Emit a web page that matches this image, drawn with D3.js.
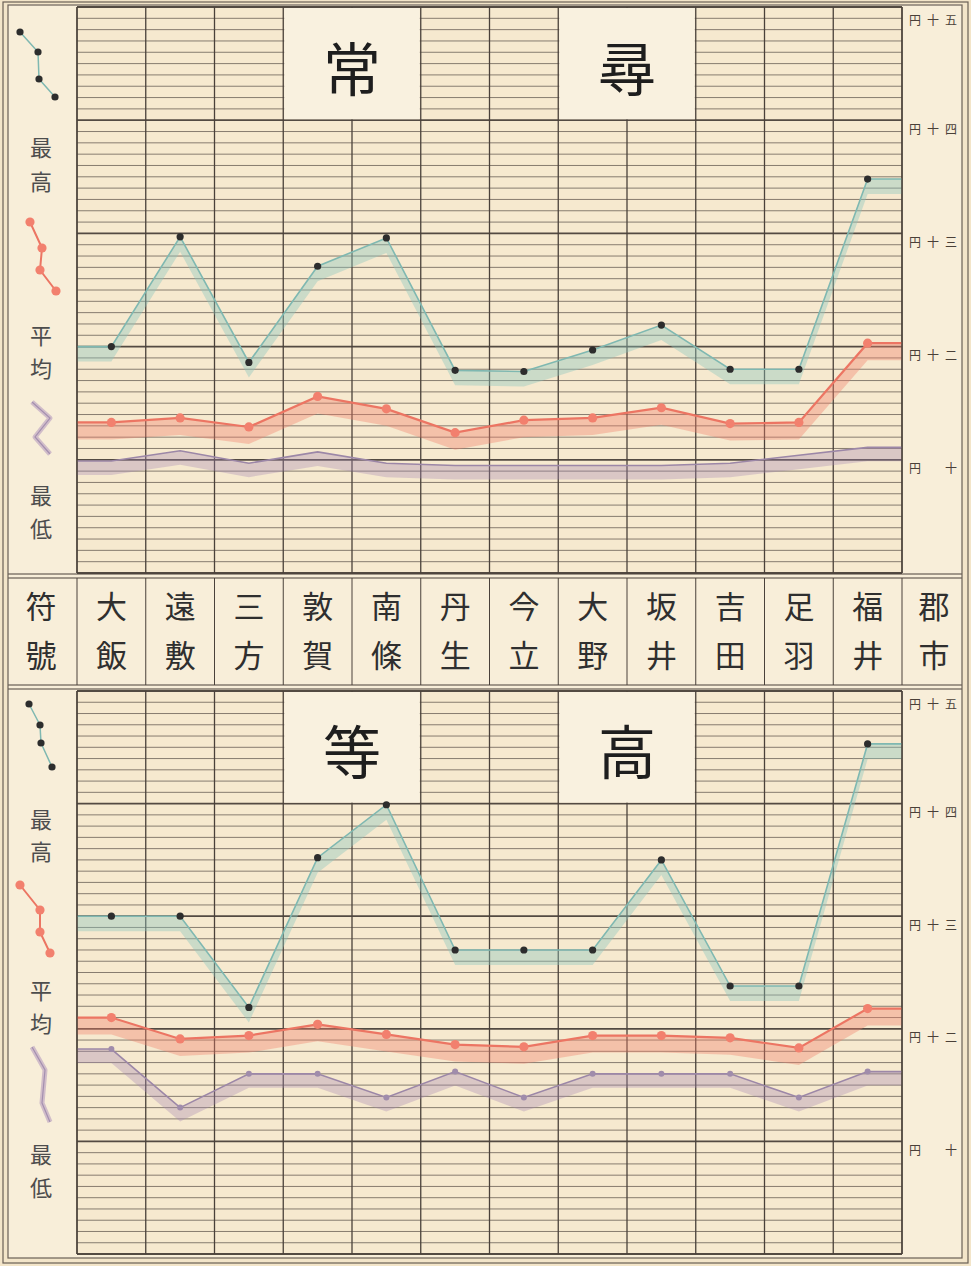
<!DOCTYPE html>
<html><head><meta charset="utf-8">
<script src="https://cdn.jsdelivr.net/npm/d3@7"></script>
<style>body{margin:0;background:#f6ead0}svg{display:block}</style>
</head><body><svg id="c" width="971" height="1266"></svg>
<script>
// ---- data ----
const categories = ["大飯","遠敷","三方","敦賀","南條","丹生","今立","大野","坂井","吉田","足羽","福井"];
const ordinaryMax = [20.0,29.7,18.6,27.1,29.6,17.9,17.8,19.7,21.9,18.0,18.0,34.8];
const ordinaryAvg = [13.3,13.7,12.9,15.6,14.5,12.4,13.5,13.7,14.6,13.2,13.3,20.3];
const ordinaryMin = [9.9,10.8,9.7,10.7,9.7,9.5,9.5,9.5,9.5,9.7,10.4,11.1];
const higherMax = [30.0,30.0,21.9,35.2,39.9,27.0,27.0,27.0,35.0,23.8,23.8,45.3];
const higherAvg = [21.0,19.1,19.4,20.4,19.5,18.6,18.4,19.4,19.4,19.2,18.3,21.8];
const higherMin = [18.2,13.0,16.0,16.0,13.9,16.2,13.9,16.0,16.0,16.0,13.9,16.2];
const tickValues = [50,40,30,20,10];
const tickLabels = ["円十五","円十四","円十三","円十二","円　十"];
const seriesNames = ["最高","平均","最低"];
const ordinaryTitle = ["常","尋"];
const higherTitle = ["等","高"];
const rowHeaderLeft = "符號";
const rowHeaderRight = "郡市";

// ---- layout ----
const W = 971, H = 1266;
const X0 = 77, X1 = 902;
const FONT = "'Noto Sans CJK JP','Noto Sans CJK SC',sans-serif";
const BG = "#f6e9cf", SIDE = "#f8eed9", BOX = "#f9f1df", LINE = "#4a413a";
const svg = d3.select("#c");

const x = d3.scaleBand().domain(categories).range([X0, X1]);

svg.append("rect").attr("width", W).attr("height", H).attr("fill", "#f3e5c9");
svg.append("rect").attr("x", 8).attr("y", 4).attr("width", 954).attr("height", 1254).attr("fill", SIDE);

const seriesStyle = [
  {line: "#7fb8b1", band: "rgba(140,198,190,0.40)", dot: "#2d2d2d", r: 3.6, dy: 15, w: 1.6},
  {line: "#ec7563", band: "rgba(242,128,108,0.38)", dot: "#f2806e", r: 4.6, dy: 17, w: 2.2},
  {line: "#9c87a7", band: "rgba(165,135,178,0.34)", dot: "#a08cab", r: 3.0, dy: 14, w: 1.6}
];

// stacked (vertical) two-character label as one text element
function stacked(parent, cx, ys, str, size, fill) {
  const t = parent.append("text").attr("text-anchor", "middle")
    .attr("font-family", FONT).attr("font-size", size).attr("fill", fill);
  str.split("").forEach((ch, k) => {
    t.append("tspan").attr("x", cx).attr("y", ys[k] + size * 0.36).text(ch);
  });
  return t;
}

function drawPanel(cfg) {
  const g = svg.append("g");
  const y = d3.scaleLinear().domain([0, 50]).range([cfg.y0, cfg.y50]);
  g.append("rect").attr("x", X0).attr("y", y(50)).attr("width", X1 - X0)
    .attr("height", y(0) - y(50)).attr("fill", BG);
  // horizontal grid
  g.selectAll("line.h").data(d3.range(0, 51)).join("line")
    .attr("x1", X0).attr("x2", X1).attr("y1", d => y(d)).attr("y2", d => y(d))
    .attr("stroke", LINE).attr("stroke-opacity", d => d % 10 === 0 ? 0.95 : 0.72)
    .attr("stroke-width", d => d % 10 === 0 ? 1.8 : 0.9);
  // vertical lines
  const edges = categories.map(c => x(c)).concat([X1]);
  g.selectAll("line.v").data(edges).join("line")
    .attr("x1", d => d).attr("x2", d => d).attr("y1", y(50)).attr("y2", y(0))
    .attr("stroke", LINE).attr("stroke-width", 1.3);
  // title boxes (cover the grid inside)
  cfg.boxes.forEach(b => {
    const xa = x(categories[b.from]), xb = x(categories[b.to]) + x.bandwidth();
    g.append("rect").attr("x", xa + 1).attr("y", y(50) + 1).attr("width", xb - xa - 2)
      .attr("height", y(40) - y(50) - 2).attr("fill", BOX);
    g.append("text").attr("x", (xa + xb) / 2).attr("y", (y(50) + y(40)) / 2 + 2)
      .attr("text-anchor", "middle").attr("dominant-baseline", "central")
      .attr("font-family", FONT).attr("font-size", 58).attr("fill", "#1e1e1e").text(b.text);
  });
  // series
  const cx = c => x(c) + x.bandwidth() / 2;
  const toPts = vals => [{px: X0, v: vals[0]}]
    .concat(vals.map((v, i) => ({px: cx(categories[i]), v})))
    .concat([{px: X1, v: vals[vals.length - 1]}]);
  cfg.series.forEach((vals, si) => {
    const st = seriesStyle[si];
    const area = d3.area().x(d => d.px).y1(d => y(d.v)).y0(d => y(d.v) + st.dy);
    g.append("path").attr("d", area(toPts(vals))).attr("fill", st.band);
  });
  cfg.series.forEach((vals, si) => {
    const st = seriesStyle[si];
    const line = d3.line().x(d => d.px).y(d => y(d.v));
    g.append("path").attr("d", line(toPts(vals))).attr("fill", "none")
      .attr("stroke", st.line).attr("stroke-width", st.w);
  });
  cfg.series.forEach((vals, si) => {
    const st = seriesStyle[si];
    if (si === 2 && !cfg.minDots) return;
    g.selectAll(null).data(vals).join("circle")
      .attr("cx", (d, i) => cx(categories[i])).attr("cy", d => y(d))
      .attr("r", st.r).attr("fill", st.dot);
  });
  // right tick labels
  g.selectAll("text.tick").data(tickValues).join("text")
    .attr("x", 909).attr("y", d => Math.max(y(d) + 8, y(50) + 12))
    .attr("dominant-baseline", "central").attr("font-family", FONT)
    .attr("font-size", 12).attr("letter-spacing", 6).attr("fill", "#4a4038")
    .text((d, i) => tickLabels[i]);
  // frame lines of the grid
  [X0, X1].forEach(xx => g.append("line").attr("x1", xx).attr("x2", xx)
    .attr("y1", y(50)).attr("y2", y(0)).attr("stroke", LINE).attr("stroke-width", 1.3));

  // left legend
  const L = cfg.legend;
  const lg = svg.append("g");
  const drawIcon = (pts, st, width) => {
    lg.append("path").attr("d", d3.line()(pts)).attr("fill", "none")
      .attr("stroke", st.line).attr("stroke-width", width).attr("stroke-linejoin", "round");
    lg.selectAll(null).data(pts).join("circle")
      .attr("cx", d => d[0]).attr("cy", d => d[1]).attr("r", st.r).attr("fill", st.dot);
  };
  drawIcon(L.maxIcon, seriesStyle[0], 1.5);
  drawIcon(L.avgIcon, seriesStyle[1], 2);
  lg.append("path").attr("d", d3.line()(L.minIcon)).attr("fill", "none")
    .attr("stroke", "rgba(170,140,185,0.5)").attr("stroke-width", 5).attr("stroke-linejoin", "round");
  lg.append("path").attr("d", d3.line()(L.minIcon)).attr("fill", "none")
    .attr("stroke", "#a48fb0").attr("stroke-width", 1.2);
  seriesNames.forEach((name, i) => stacked(lg, 41, L.textY[i], name, 22, "#4d4d4d"));
}

drawPanel({
  y50: 7, y0: 573, minDots: false,
  series: [ordinaryMax, ordinaryAvg, ordinaryMin],
  boxes: [{from: 3, to: 4, text: ordinaryTitle[0]}, {from: 7, to: 8, text: ordinaryTitle[1]}],
  legend: {
    maxIcon: [[20,32],[38,52],[39,79],[55,97]],
    avgIcon: [[30,222],[42,248],[40,270],[56,291]],
    minIcon: [[32,402],[50,418],[35,437],[50,454]],
    textY: [[148,182],[336,369],[496,529]]
  }
});
drawPanel({
  y50: 691, y0: 1254, minDots: true,
  series: [higherMax, higherAvg, higherMin],
  boxes: [{from: 3, to: 4, text: higherTitle[0]}, {from: 7, to: 8, text: higherTitle[1]}],
  legend: {
    maxIcon: [[29,704],[40,725],[41,743],[52,767]],
    avgIcon: [[20,885],[40,910],[40,932],[50,953]],
    minIcon: [[32,1047],[45,1070],[42,1103],[50,1122]],
    textY: [[820,852],[991,1024],[1155,1188]]
  }
});

// ---- label row ----
const row = svg.append("g");
row.append("rect").attr("x", 8).attr("y", 578).attr("width", 954).attr("height", 107).attr("fill", SIDE);
[574, 578, 685, 689].forEach(yy => row.append("line").attr("x1", 8).attr("x2", 962)
  .attr("y1", yy).attr("y2", yy).attr("stroke", LINE).attr("stroke-width", 1.1));
const rowEdges = categories.map(c => x(c)).concat([X1]);
row.selectAll("line.v").data(rowEdges).join("line")
  .attr("x1", d => d).attr("x2", d => d).attr("y1", 578).attr("y2", 685)
  .attr("stroke", LINE).attr("stroke-width", 1);
const rowLabels = [{cx: 41, t: rowHeaderLeft}]
  .concat(categories.map(c => ({cx: x(c) + x.bandwidth() / 2, t: c})))
  .concat([{cx: 934, t: rowHeaderRight}]);
rowLabels.forEach(d => stacked(row, d.cx, [607, 656], d.t, 31, "#2f2f2f"));

// ---- outer frame ----
const fr = svg.append("g").attr("fill", "none").attr("stroke", "#6a5f55");
fr.append("rect").attr("x", 3).attr("y", 2).attr("width", 965).attr("height", 1261).attr("stroke-width", 1.2);
fr.append("rect").attr("x", 8).attr("y", 5).attr("width", 954).attr("height", 1253).attr("stroke-width", 1.2);
</script>
</body></html>
